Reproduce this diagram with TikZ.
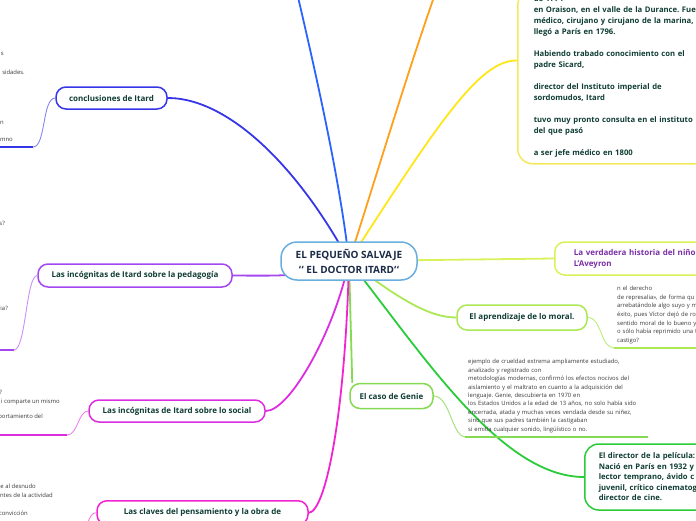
\documentclass[tikz,border=0pt]{standalone}
\usepackage{fontspec}
\setmainfont{Open Sans}
\usetikzlibrary{positioning,calc,backgrounds}
\definecolor{txt}{HTML}{0F3D33}
\definecolor{rootc}{HTML}{1B2A47}
\definecolor{notec}{HTML}{3A3A3A}
\definecolor{rootb}{HTML}{6AAEE0}
\definecolor{cblue}{HTML}{3636E8}
\definecolor{tblue}{HTML}{2B63FF}
\definecolor{orng}{HTML}{FF9F1C}
\definecolor{yell}{HTML}{FFE619}
\definecolor{ylbox}{HTML}{F5E85A}
\definecolor{lime}{HTML}{D8F25A}
\definecolor{apgr}{HTML}{ABE854}
\definecolor{gngr}{HTML}{84DA52}
\definecolor{dirg}{HTML}{2ACC3A}
\definecolor{clvm}{HTML}{F224D2}
\definecolor{socm}{HTML}{DC2EE0}
\definecolor{pedp}{HTML}{A348F0}
\definecolor{purp}{HTML}{7A2FA6}
\newcommand{\btick}{\char96\kern.6pt\char96}
\frenchspacing
\tikzset{
  topic/.style={draw=#1, line width=1.5pt, fill=white, rounded corners=10pt, inner sep=0pt,
    text=txt, font=\fontsize{8}{10}\selectfont\bfseries},
  branch/.style={draw=#1, line width=1.8pt},
  twig/.style={draw=#1, line width=0.9pt},
  uline/.style={draw=#1, line width=2pt},
  notetxt/.style={text=notec, font=\fontsize{5.9}{8.4}\selectfont, align=left, inner xsep=3pt, inner ysep=4pt},
  frag/.style={text=notec, font=\fontsize{5.9}{8.4}\selectfont, anchor=east, inner sep=0pt}}

\begin{document}
\begin{tikzpicture}[x=1pt, y=-1pt]
\useasboundingbox (0,0) rectangle (696,520);
\clip (0,0) rectangle (696,520);
% centre
\node[draw=rootb, line width=1.5pt, fill=white, rounded corners=16pt, minimum width=136pt, minimum height=38pt,
  align=center, text=rootc, font=\fontsize{10}{15}\selectfont\bfseries] (root) at (349,261)
  {EL PEQUEÑO SALVAJE\\\btick{} EL DOCTOR ITARD\btick};
% left side
\node[topic=cblue, minimum width=111pt, minimum height=22pt] (concl) at (111.5,98) {conclusiones de Itard};
\node[topic=pedp, minimum width=194pt, minimum height=23pt] (ped) at (135,275.5) {Las incógnitas de Itard sobre la pedagogía};
\node[topic=socm, minimum width=176pt, minimum height=22pt] (soc) at (177,411) {Las incógnitas de Itard sobre lo social};
\node[topic=clvm, minimum width=211pt, minimum height=24pt, anchor=north] (clv) at (202.5,500) {Las claves del pensamiento y la obra de};
% right side
\node[topic=ylbox, rounded corners=15pt, anchor=south west, text width=200pt, align=left, inner xsep=16pt, inner ysep=6pt,
  font=\fontsize{7.7}{11}\selectfont\bfseries] (bio) at (517,164.5)
  {de 1774\\
   en Oraison, en el valle de la Durance. Fue\\
   médico, cirujano y cirujano de la marina,\\
   llegó a París en 1796.\\[11pt]
   Habiendo trabado conocimiento con el\\
   padre Sicard,\\[11pt]
   director del Instituto imperial de\\
   sordomudos, Itard\\[11pt]
   tuvo muy pronto consulta en el instituto\\
   del que pasó\\[11pt]
   a ser jefe médico en 1800};
\node[topic=lime, anchor=west, minimum height=33pt, text width=160pt, align=left, inner xsep=19pt, text=purp,
  font=\fontsize{8}{11}\selectfont\bfseries] (verd) at (554,258.5) {La verdadera historia del niño de\\L'Aveyron};
\node[topic=apgr, minimum width=130pt, minimum height=25pt] (apr) at (522,317.5) {El aprendizaje de lo moral.};
\node[topic=gngr, minimum width=83pt, minimum height=25pt] (genie) at (391.5,396) {El caso de Genie};
\node[topic=dirg, anchor=west, rounded corners=14pt, minimum height=66pt, text width=180pt, align=left, inner xsep=14pt,
  font=\fontsize{7.7}{10.5}\selectfont\bfseries] (dir) at (584,477)
  {El director de la película:\\Nació en París en 1932 y\\lector temprano, ávido c\\juvenil, crítico cinematog\\director de cine.};
% notes
\node[notetxt, anchor=west, text width=177pt] (gtext) at (465,396)
  {ejemplo de crueldad extrema ampliamente estudiado,\\
   analizado y registrado con\\
   metodologías modernas, confirmó los efectos nocivos del\\
   aislamiento y el maltrato en cuanto a la adquisición del\\
   lenguaje. Genie, descubierta en 1970 en\\
   los Estados Unidos a la edad de 13 años, no solo había sido\\
   encerrada, atada y muchas veces vendada desde su niñez,\\
   sino que sus padres también la castigaban\\
   si emitía cualquier sonido, lingüístico o no.};
\node[notetxt, anchor=west, text width=150pt, font=\fontsize{5.9}{8.6}\selectfont] (atext) at (614,315)
  {n el derecho\\
   de represalia», de forma qu\\
   arrebatándole algo suyo y m\\
   éxito, pues Víctor dejó de ro\\
   sentido moral de lo bueno y\\
   o sólo había reprimido una f\\
   castigo?};
\foreach \x/\y/\t [count=\i] in {4/54/s, 25/72/sidades., 4/123/n, 13/140/mno, 5/223/s?, 8/308/ia?,
    2/392/?, 60/402/i comparte un mismo, 43/417/mportamiento del,
    36/486/e al desnudo, 53/495/ntes de la actividad, 28/513/convicción}
  \node[frag] (fr\i) at (\x,\y) {\t};
% free ends
\coordinate (tb) at (298,-3);
\coordinate (to) at (434,-3);
\coordinate (bioin) at ($(bio.south west)+(0,-104)$);
\coordinate (gtop) at ($(genie.north west)+(3,0)$);
\coordinate (cu) at (33,147);
\coordinate (pu) at (14,350);
\coordinate (su) at (67,435);
\coordinate (ku) at (78,532);
% main branches
\begin{scope}[on background layer]
\draw[branch=cblue] (root.center) .. controls (300,170) and (230,98) .. (concl.east);
\draw[branch=tblue] (root.center) .. controls (340,180) and (315,70) .. (tb);
\draw[branch=orng] (root.center) .. controls (372,190) and (405,80) .. (to);
\draw[branch=yell] (root.center) .. controls (440,120) and (480,60) .. (bioin);
\draw[branch=lime] (root.center) -- (verd.west);
\draw[branch=apgr] (root.center) .. controls (400,300) and (430,317.5) .. (apr.west);
\draw[branch=gngr] (root.center) -- (gtop);
\draw[branch=dirg] (root.center) .. controls (420,350) and (500,477) .. (dir.west);
\draw[branch=clvm] (root.center) .. controls (345,420) and (325,512) .. (clv.east);
\draw[branch=socm] (root.center) .. controls (335,330) and (290,411) .. (soc.east);
\draw[branch=pedp] (root.center) .. controls (300,276) .. (ped.east);
\end{scope}
% sub connectors
\draw[twig=cblue!60] (concl.west) .. controls (42,98) and (46,147) .. (cu);
\draw[uline=cblue] (cu) -- ++(-40,0);
\draw[twig=pedp!60] (ped.west) .. controls (26,275.5) and (26,350) .. (pu);
\draw[uline=pedp] (pu) -- ++(-20,0);
\draw[twig=socm!60] (soc.west) .. controls (78,411) and (78,435) .. (su);
\draw[uline=socm] (su) -- ++(-70,0);
\draw[twig=clvm!60] (clv.west) .. controls (88,512) and (88,532) .. (ku);
\draw[twig=apgr!80] (apr.east) .. controls (602,317.5) and (600,347.5) .. (atext.south west);
\draw[uline=apgr] (atext.south west) -- (atext.south east);
\draw[twig=gngr!80] (genie.east) .. controls (450,396) and (452,436.5) .. (gtext.south west);
\draw[uline=gngr] (gtext.south west) -- (gtext.south east);
\end{tikzpicture}
\end{document}
